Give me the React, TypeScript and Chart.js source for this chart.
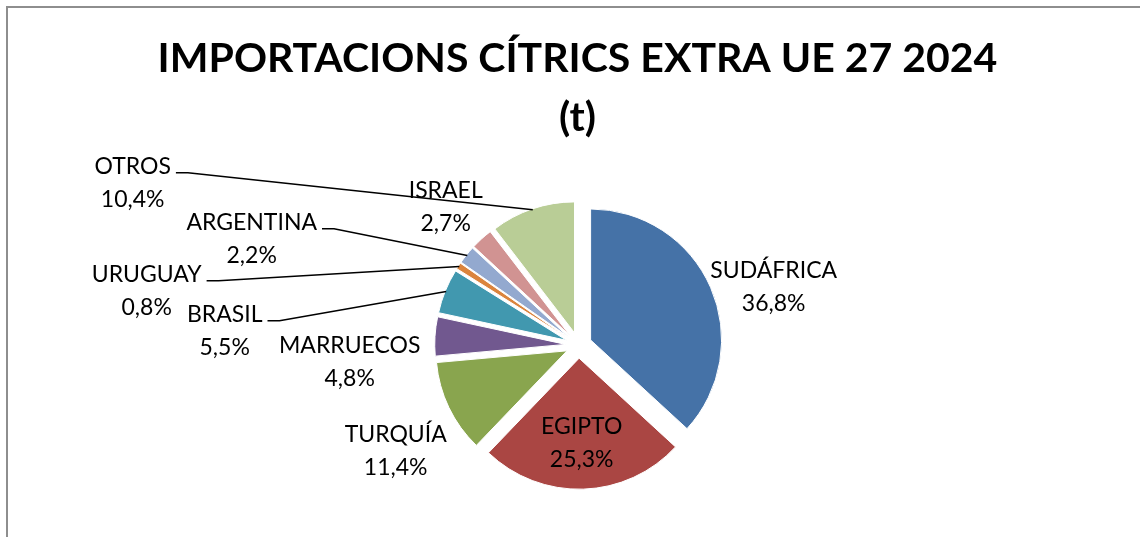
import { useEffect, useRef } from 'react';
import { Chart, registerables } from 'chart.js';

Chart.register(...registerables);

const CATEGORIES = ['SUDÁFRICA', 'EGIPTO', 'TURQUÍA', 'MARRUECOS', 'BRASIL', 'URUGUAY', 'ARGENTINA', 'ISRAEL', 'OTROS'];
const SHARES = [36.8, 25.3, 11.4, 4.8, 5.5, 0.8, 2.2, 2.7, 10.4];
const COLORS = ['#4572A7', '#AA4643', '#89A54E', '#71588F', '#4198AF', '#DB843D', '#93A9CF', '#D19392', '#B9CD96'];
const TITLE_LINES = ['IMPORTACIONS CÍTRICS EXTRA UE 27 2024', '(t)'];

// label layout relative to pie centre: x of text centre, y of first baseline
const LABEL_DX = [195, 3, -183, -229, -354, -432, -327, -133, -446];
const LABEL_DY = [-67, 89, 97, 8, -23, -63, -115, -147, -171];
const LEADER = [false, false, false, false, true, true, true, false, true];

const EXPLODE = 13;
const RADIUS = 131;
const LABEL_FONT = '23px Lato';
const LINE_GAP = 32.5;
const TITLE_FONT = 'bold 41px Lato';
const TITLE_X = 569.5;
const TITLE_BASELINES = [64, 123];

const fmt = (v: number) => v.toFixed(1).replace('.', ',') + '%';

const explodePlugin = {
  id: 'explode',
  beforeDatasetDraw(chart: any, args: any) {
    const ctx = chart.ctx;
    args.meta.data.forEach((arc: any) => {
      const mid = (arc.startAngle + arc.endAngle) / 2;
      ctx.save();
      ctx.translate(Math.cos(mid) * EXPLODE, Math.sin(mid) * EXPLODE);
      arc.draw(ctx);
      ctx.restore();
    });
    return false;
  },
};

const labelPlugin = {
  id: 'pieLabels',
  afterDatasetsDraw(chart: any) {
    const meta = chart.getDatasetMeta(0);
    const ctx = chart.ctx;
    ctx.save();
    ctx.font = LABEL_FONT;
    ctx.fillStyle = '#000';
    ctx.strokeStyle = '#000';
    ctx.lineWidth = 1.5;
    ctx.textAlign = 'center';
    ctx.textBaseline = 'alphabetic';
    meta.data.forEach((arc: any, i: number) => {
      const cx = arc.x;
      const cy = arc.y;
      const x = cx + LABEL_DX[i];
      const y = cy + LABEL_DY[i];
      ctx.fillText(CATEGORIES[i], x, y);
      ctx.fillText(fmt(SHARES[i]), x, y + LINE_GAP);
      if (LEADER[i]) {
        const w = ctx.measureText(CATEGORIES[i]).width;
        const sx = x + w / 2 + 5;
        const sy = y - 1.5;
        const mid = (arc.startAngle + arc.endAngle) / 2;
        const rr = arc.outerRadius + EXPLODE - 1;
        ctx.beginPath();
        ctx.moveTo(sx, sy);
        ctx.lineTo(sx + 12, sy);
        ctx.lineTo(cx + Math.cos(mid) * rr, cy + Math.sin(mid) * rr);
        ctx.stroke();
      }
    });
    ctx.font = TITLE_FONT;
    TITLE_LINES.forEach((t, i) => ctx.fillText(t, TITLE_X, TITLE_BASELINES[i]));
    ctx.restore();
  },
};

export default function App() {
  const ref = useRef<HTMLCanvasElement | null>(null);
  useEffect(() => {
    if (!ref.current) return;
    const chart = new Chart(ref.current, {
      type: 'pie',
      data: {
        labels: CATEGORIES,
        datasets: [
          {
            data: SHARES,
            backgroundColor: COLORS,
            borderColor: '#ffffff',
            borderWidth: 1,
          },
        ],
      },
      options: {
        animation: false,
        responsive: true,
        maintainAspectRatio: false,
        devicePixelRatio: 1,
        radius: RADIUS,
        layout: { padding: { top: 145.4, bottom: 0, left: 9.4, right: 0 } },
        plugins: {
          legend: { display: false },
          tooltip: { enabled: false },
          title: { display: false },
        },
        events: [],
      } as any,
      plugins: [explodePlugin, labelPlugin],
    });
    return () => chart.destroy();
  }, []);
  return (
    <div
      style={{
        position: 'fixed',
        left: 6,
        top: 6,
        width: 1132,
        height: 529,
        borderLeft: '2px solid #8e8e8e',
        borderTop: '2px solid #8e8e8e',
        background: '#fff',
      }}
    >
      <div style={{ position: 'relative', width: 1132, height: 529 }}>
        <canvas ref={ref} />
      </div>
    </div>
  );
}
